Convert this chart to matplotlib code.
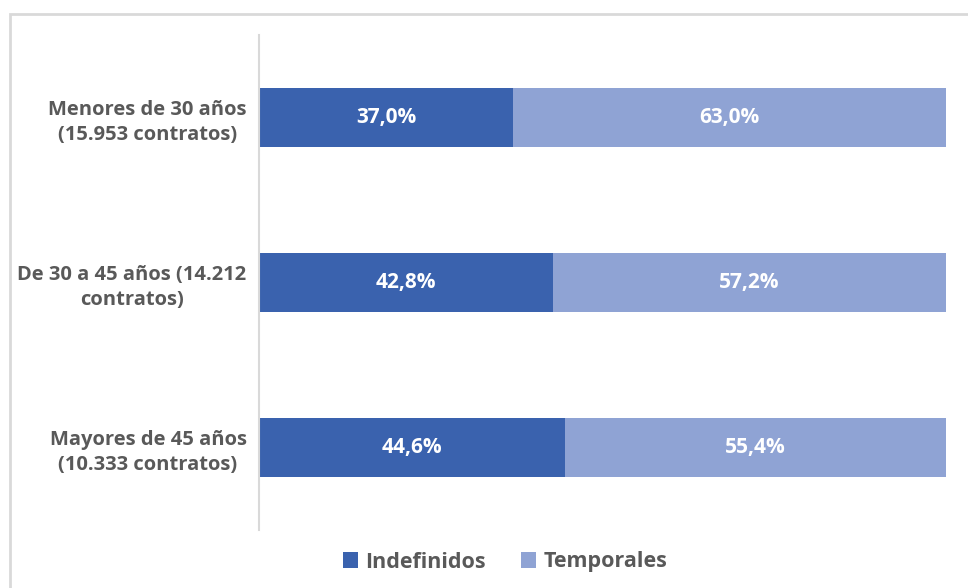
import matplotlib
matplotlib.use("Agg")
import matplotlib.pyplot as plt
from matplotlib.patches import Rectangle

categories = ["Menores de 30 años\n(15.953 contratos)",
              "De 30 a 45 años (14.212\ncontratos)",
              "Mayores de 45 años\n(10.333 contratos)"]
indefinidos = [37.0, 42.8, 44.6]
temporales = [63.0, 57.2, 55.4]
series_names = ["Indefinidos", "Temporales"]
colors = ["#3A62AE", "#8FA3D4"]

plt.rcParams['font.family'] = ['Open Sans', 'DejaVu Sans']

fig = plt.figure(figsize=(9.68, 5.88), dpi=100)
fig.patches.append(Rectangle((10/968, -0.1), 1.1, 1 - 14/588 + 0.1,
                             transform=fig.transFigure, fill=False,
                             edgecolor="#D9D9D9", linewidth=2.0, zorder=0))
ax = fig.add_axes([259/968, 1 - 530/588, (946 - 259)/968, (530 - 35)/588])

y = list(range(len(categories)))
h = 0.36
b1 = ax.barh(y, indefinidos, height=h, color=colors[0], label=series_names[0])
b2 = ax.barh(y, temporales, left=indefinidos, height=h, color=colors[1], label=series_names[1])

def fmt(v):
    return f"{v:.1f}".replace(".", ",") + "%"

for i in y:
    ax.text(indefinidos[i] / 2, i, fmt(indefinidos[i]), ha="center", va="center",
            color="white", fontsize=15, fontweight="bold")
    ax.text(indefinidos[i] + temporales[i] / 2, i, fmt(temporales[i]), ha="center", va="center",
            color="white", fontsize=15, fontweight="bold")

ax.set_xlim(0, 100)
ax.set_ylim(2.5, -0.5)
ax.set_yticks(y)
ax.set_yticklabels(categories, fontsize=14.5, fontweight="bold", color="#595959",
                   ha="right", multialignment="center", linespacing=1.35)
ax.tick_params(axis="y", length=0, pad=9)
ax.set_xticks([])
for s in ["top", "right", "bottom"]:
    ax.spines[s].set_visible(False)
ax.spines["left"].set_color("#D9D9D9")
ax.spines["left"].set_linewidth(1.5)

fig.legend(handles=[b1, b2], labels=series_names, loc="center",
           bbox_to_anchor=(505/968, 1 - 562/588), ncol=2, frameon=False,
           handlelength=0.7, handleheight=0.7, handletextpad=0.35,
           columnspacing=1.6, prop={"weight": "bold", "size": 15.5},
           labelcolor="#595959")

fig.savefig("out.png", dpi=100)
